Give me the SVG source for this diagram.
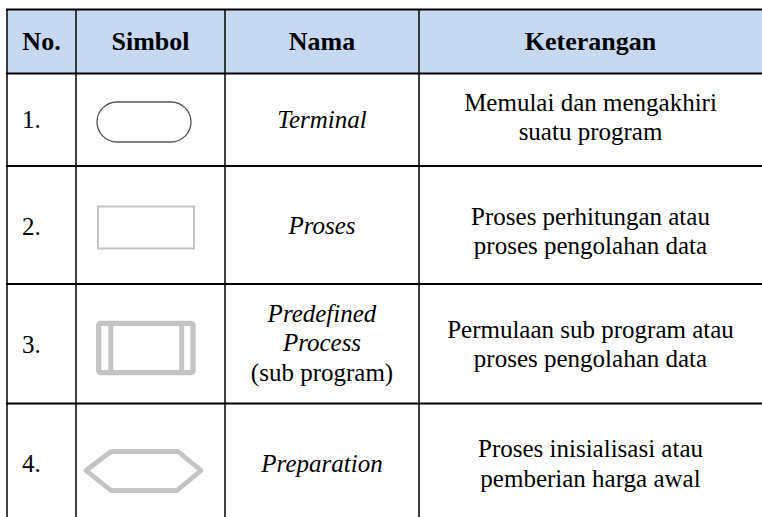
<svg xmlns="http://www.w3.org/2000/svg" width="762" height="517" viewBox="0 0 762 517" font-family="Liberation Serif">
<rect x="7" y="10" width="755" height="63" fill="#c6d9f1"/>
<g id="grid" stroke="#000" fill="none">
<line x1="6" y1="9.5" x2="762" y2="9.5" stroke-width="2"/>
<line x1="6" y1="73.5" x2="762" y2="73.5" stroke-width="2"/>
<line x1="6" y1="166" x2="762" y2="166" stroke-width="2"/>
<line x1="6" y1="284" x2="762" y2="284" stroke-width="2"/>
<line x1="6" y1="403.5" x2="762" y2="403.5" stroke-width="2"/>
<line x1="7" y1="9" x2="7" y2="517" stroke-width="1.5"/>
<line x1="76" y1="9" x2="76" y2="517" stroke-width="1.5"/>
<line x1="225" y1="9" x2="225" y2="517" stroke-width="1.5"/>
<line x1="419" y1="9" x2="419" y2="517" stroke-width="1.5"/>
</g>
<g id="header">
<text style="font-family:'Liberation Serif',serif" font-size="26" font-weight="bold" text-anchor="middle" x="41.5" y="50">No.</text>
<text style="font-family:'Liberation Serif',serif" font-size="26" font-weight="bold" text-anchor="middle" x="150.5" y="50">Simbol</text>
<text style="font-family:'Liberation Serif',serif" font-size="26" font-weight="bold" text-anchor="middle" x="322" y="50">Nama</text>
<text style="font-family:'Liberation Serif',serif" font-size="26" font-weight="bold" text-anchor="middle" x="590.5" y="50">Keterangan</text>
</g>
<g id="row1">
<text style="font-family:'Liberation Serif',serif" font-size="25" x="22" y="128">1.</text>
<rect x="97" y="102" width="94" height="40" rx="20" fill="none" stroke="#555" stroke-width="1.3"/>
<text style="font-family:'Liberation Serif',serif" font-size="25" text-anchor="middle" font-style="italic" x="322" y="128">Terminal</text>
<text style="font-family:'Liberation Serif',serif" font-size="25" text-anchor="middle" x="590.5" y="111">Memulai dan mengakhiri</text>
<text style="font-family:'Liberation Serif',serif" font-size="25" text-anchor="middle" x="590.5" y="140">suatu program</text>
</g>
<g id="row2">
<text style="font-family:'Liberation Serif',serif" font-size="25" x="22" y="235">2.</text>
<rect x="98" y="206.5" width="96" height="42" fill="none" stroke="#c4c4c4" stroke-width="2"/>
<text style="font-family:'Liberation Serif',serif" font-size="25" text-anchor="middle" font-style="italic" x="322" y="234">Proses</text>
<text style="font-family:'Liberation Serif',serif" font-size="25" text-anchor="middle" x="590.5" y="225">Proses perhitungan atau</text>
<text style="font-family:'Liberation Serif',serif" font-size="25" text-anchor="middle" x="590.5" y="254">proses pengolahan data</text>
</g>
<g id="row3">
<text style="font-family:'Liberation Serif',serif" font-size="25" x="22" y="353">3.</text>
<rect x="98.7" y="323.3" width="94.3" height="49.4" rx="2" fill="none" stroke="#c4c4c4" stroke-width="5.3"/>
<line x1="110.8" y1="323.3" x2="110.8" y2="372.7" stroke="#c4c4c4" stroke-width="5"/>
<line x1="181.7" y1="323.3" x2="181.7" y2="372.7" stroke="#c4c4c4" stroke-width="5"/>
<text style="font-family:'Liberation Serif',serif" font-size="25" text-anchor="middle" font-style="italic" x="322" y="322">Predefined</text>
<text style="font-family:'Liberation Serif',serif" font-size="25" text-anchor="middle" font-style="italic" x="322" y="351">Process</text>
<text style="font-family:'Liberation Serif',serif" font-size="25" text-anchor="middle" x="322" y="381">(sub program)</text>
<text style="font-family:'Liberation Serif',serif" font-size="25" text-anchor="middle" x="590.5" y="338">Permulaan sub program atau</text>
<text style="font-family:'Liberation Serif',serif" font-size="25" text-anchor="middle" x="590.5" y="367">proses pengolahan data</text>
</g>
<g id="row4">
<text style="font-family:'Liberation Serif',serif" font-size="25" x="22" y="472">4.</text>
<polygon points="86,470.5 111,451.5 178,451.5 201,470.5 177,490.5 111,490.5" fill="none" stroke="#c4c4c4" stroke-width="4.8" stroke-linejoin="round"/>
<text style="font-family:'Liberation Serif',serif" font-size="25" text-anchor="middle" font-style="italic" x="322" y="472">Preparation</text>
<text style="font-family:'Liberation Serif',serif" font-size="25" text-anchor="middle" x="590.5" y="457">Proses inisialisasi atau</text>
<text style="font-family:'Liberation Serif',serif" font-size="25" text-anchor="middle" x="590.5" y="487">pemberian harga awal</text>
</g>
</svg>
